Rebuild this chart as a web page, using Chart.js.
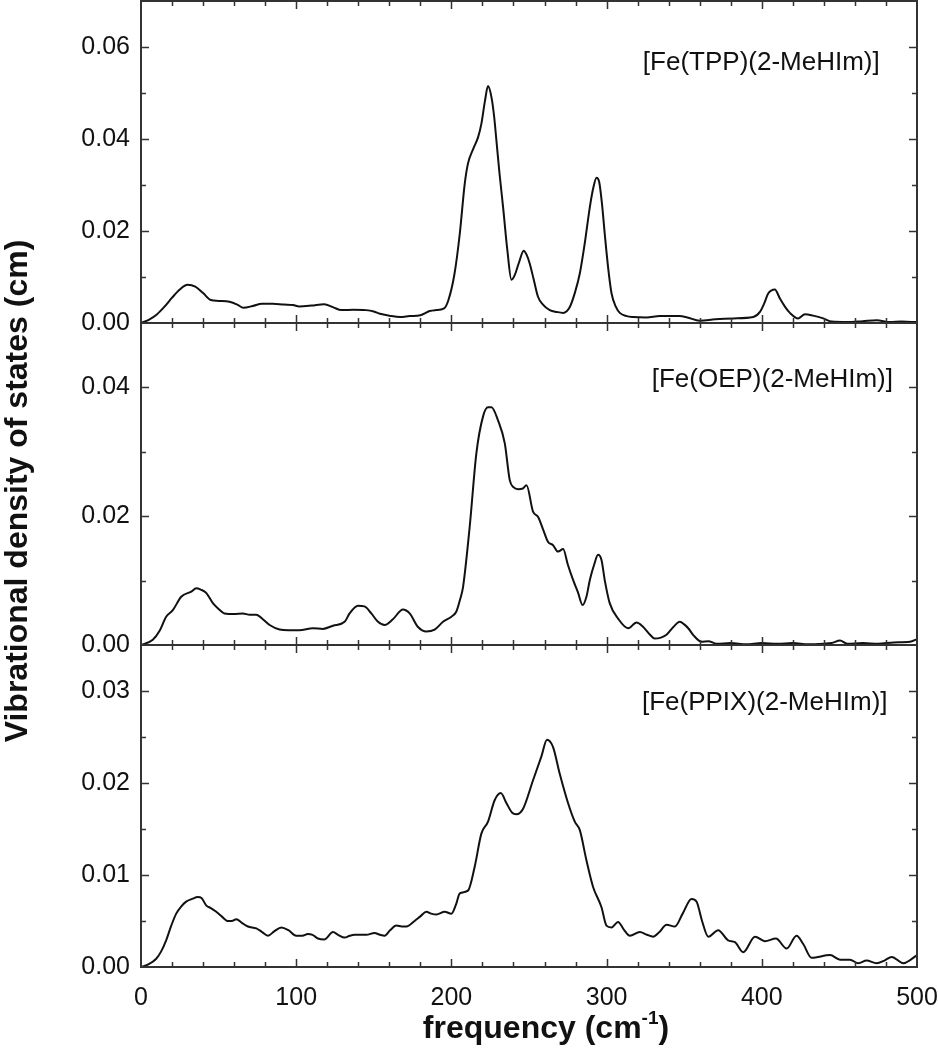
<!DOCTYPE html>
<html>
<head>
<meta charset="utf-8">
<script src="https://cdn.jsdelivr.net/npm/chart.js@4.4.1/dist/chart.umd.min.js"></script>
<style>
    html, body { margin: 0; padding: 0; background: #fff; }
    #wrap { position: relative; width: 938px; height: 1050px; }
</style>
</head>
<body>
<div id="wrap"><canvas id="chartVdos" width="938" height="1050"></canvas></div>
<script>
// [Fe(TPP)(2-MeHIm)] - top panel
const tppFreq = [0, 5, 10, 15, 20, 25, 30, 35, 40, 45, 50, 57, 62, 66, 72, 78, 85, 92, 98, 102,
    110, 118, 124, 129, 137, 145, 150, 154, 160, 167, 173, 180, 186, 190, 195, 198, 202, 205.4, 208.6, 210.7,
    214, 217.2, 219.3, 221.5, 223.6, 225.8, 227.5, 229, 231, 233.3, 236, 238.7, 240.8, 243.5, 246.6, 248.5,
    250.5, 253, 255.8, 259, 263.4, 268, 272, 276.3, 279.5, 282.7, 286, 289.2, 291.5, 293.5, 295.2, 297,
    298.8, 301, 303.2, 306, 308.5, 313, 317, 325.7, 334.3, 347, 352, 360, 370, 381.6, 394.5, 398.8,
    401.5, 404.1, 408.4, 411.7, 415, 418.1, 423.5, 427.8, 433, 439.6, 445, 455, 465, 474, 482.6, 490, 500];
const tppDos = [0, 0.0007, 0.0018, 0.0035, 0.0055, 0.0073, 0.0083, 0.0079, 0.0065, 0.005, 0.0048, 0.0046, 0.004, 0.0033, 0.0037, 0.0042, 0.0042, 0.004, 0.0039, 0.0036,
    0.0038, 0.0041, 0.0034, 0.0028, 0.0029, 0.0028, 0.0025, 0.002, 0.0016, 0.0013, 0.0015, 0.0017, 0.0026, 0.0028, 0.0031, 0.0049, 0.0107, 0.0194, 0.0303, 0.0347,
    0.0378, 0.0404, 0.0433, 0.048, 0.0515, 0.0491, 0.045, 0.0397, 0.0325, 0.0252, 0.016, 0.0094, 0.0104, 0.0131, 0.0157, 0.0148,
    0.0129, 0.0095, 0.0057, 0.004, 0.0028, 0.0024, 0.0022, 0.0035, 0.0065, 0.0107, 0.0175, 0.0252, 0.0295, 0.0316, 0.0307, 0.026,
    0.0194, 0.012, 0.0064, 0.0035, 0.0022, 0.0015, 0.0013, 0.0012, 0.0015, 0.0015, 0.0012, 0.0005, 0.0008, 0.001, 0.0013, 0.0024,
    0.0042, 0.0064, 0.0073, 0.0053, 0.0035, 0.0022, 0.001, 0.0019, 0.0016, 0.001, 0.0003, 0.0002, 0.0004, 0.0006, 0.0002, 0.0003, 0.0002];

// [Fe(OEP)(2-MeHIm)] - middle panel
const oepFreq = [0, 7.6, 12, 16.2, 20.5, 25.9, 32.4, 35.6, 38.5, 42, 46.3, 50, 53.8, 60, 65.6, 70, 74.3, 78.5, 82.9, 89.3,
    95, 102, 110.8, 117.2, 123.7, 131.2, 134.4, 139.8, 144, 148.4, 152.7, 157, 162.3, 168.8, 173.1, 178.5, 183.9, 189.2, 194.6, 200,
    203.2, 205.5, 207.5, 211.8, 216.1, 220.4, 223.6, 225.8, 230, 234.4, 237.6, 240, 243, 246, 248.4, 252.6, 255.8, 259, 262.3, 265.5,
    268.7, 272, 275, 278.4, 281.5, 284.5, 287, 289.2, 292, 294.5, 296.7, 299, 302, 307.4, 313.9, 319.3, 323.6, 328, 331, 338.6,
    343, 347.2, 350, 352.6, 356, 361.2, 365.5, 370.8, 380, 390, 400, 410, 420, 430, 440, 445, 450.4, 455, 465, 475, 485, 495.5, 500];
const oepDos = [0, 0.0008, 0.0022, 0.0044, 0.0054, 0.0075, 0.0083, 0.0088, 0.0086, 0.0081, 0.0065, 0.0056, 0.0049, 0.0048, 0.0049, 0.0047, 0.0047, 0.004, 0.0031, 0.0024,
    0.0023, 0.0023, 0.0026, 0.0025, 0.003, 0.0036, 0.0049, 0.0061, 0.006, 0.0049, 0.0036, 0.0031, 0.004, 0.0055, 0.0049, 0.0028, 0.0021, 0.0024, 0.0036, 0.0044,
    0.0052, 0.007, 0.009, 0.0184, 0.0298, 0.0355, 0.0369, 0.0369, 0.0349, 0.0313, 0.0256, 0.0245, 0.0242, 0.0243, 0.0248, 0.0207, 0.0199, 0.018, 0.016, 0.0155,
    0.0145, 0.0149, 0.0125, 0.0101, 0.0082, 0.0062, 0.0075, 0.0101, 0.0125, 0.014, 0.0132, 0.0098, 0.0065, 0.0041, 0.0026, 0.0035, 0.0028, 0.0016, 0.001, 0.0016,
    0.0028, 0.0036, 0.0032, 0.0026, 0.0015, 0.0005, 0.0006, 0.0002, 0.0003, 0.0001, 0.0003, 0.0002, 0.0003, 0.0001, 0.0002, 0.0003, 0.0007, 0.0002, 0.0003, 0.0002, 0.0004, 0.0005, 0.0009];

// [Fe(PPIX)(2-MeHIm)] - bottom panel
const ppixFreq = [0, 5, 9.8, 13, 16.2, 19.5, 22.7, 26, 29.1, 33, 36.6, 39, 42, 45, 48.5, 52, 56, 58.5, 61.4, 65,
    68.9, 74.3, 78, 81.8, 86, 90.4, 95, 100, 104, 107.5, 110.5, 114, 118.3, 123.7, 127, 131.2, 134.5, 137.7, 145.2, 150.5,
    154, 157, 160.5, 164.5, 168, 171, 176.3, 180, 183.9, 187, 190.3, 195.7, 200, 203, 205.4, 210.7, 215, 219.3, 223.6, 227.8,
    231.8, 235.5, 239, 241.9, 246.2, 252.6, 258, 261.6, 265.5, 269.8, 275.2, 279.5, 282.7, 287, 291.3, 296.7, 299.9, 303.2, 307.4, 311,
    315, 321.4, 326, 330, 334, 338.6, 344, 349, 354.7, 358, 361.5, 365.5, 371.9, 378.3, 382.7, 388, 395.6, 402, 409.1, 416,
    422.4, 426.7, 432.1, 444, 450.4, 456.8, 462.2, 467.5, 474, 479, 483.7, 491.2, 496, 500];
const ppixDos = [0, 0.0003, 0.0009, 0.0017, 0.0029, 0.0045, 0.0058, 0.0066, 0.0071, 0.0074, 0.0076, 0.0075, 0.0067, 0.0064, 0.006, 0.0055, 0.005, 0.005, 0.0052, 0.0048,
    0.0044, 0.0042, 0.0038, 0.0034, 0.0039, 0.0043, 0.004, 0.0034, 0.0034, 0.0036, 0.0035, 0.0031, 0.003, 0.0038, 0.0035, 0.0032, 0.0034, 0.0035, 0.0035, 0.0037,
    0.0035, 0.0034, 0.004, 0.0045, 0.0044, 0.0044, 0.005, 0.0055, 0.006, 0.0058, 0.0057, 0.006, 0.0058, 0.0068, 0.008, 0.0083, 0.0109, 0.0145, 0.0158, 0.0181,
    0.0189, 0.0178, 0.0168, 0.0166, 0.0172, 0.0203, 0.0229, 0.0247, 0.0239, 0.021, 0.0178, 0.0158, 0.0149, 0.0116, 0.0087, 0.0065, 0.0045, 0.0043, 0.0049, 0.0041,
    0.0034, 0.0038, 0.0035, 0.0033, 0.0038, 0.0046, 0.0044, 0.0058, 0.0074, 0.0071, 0.005, 0.0033, 0.004, 0.0029, 0.0027, 0.0016, 0.0033, 0.0028, 0.0031, 0.002,
    0.0034, 0.0025, 0.001, 0.0013, 0.0008, 0.0008, 0.0004, 0.0007, 0.0004, 0.0007, 0.0011, 0.0004, 0.0008, 0.0013];

// axis ranges and tick labels
const xTicks = [0, 100, 200, 300, 400, 500];
const tppTicks = [0, 0.02, 0.04, 0.06];
const oepTicks = [0, 0.02, 0.04];
const ppixTicks = [0, 0.01, 0.02, 0.03];
const panelMax = [0.07, 0.05, 0.035];
const panelNames = ['[Fe(TPP)(2-MeHIm)]', '[Fe(OEP)(2-MeHIm)]', '[Fe(PPIX)(2-MeHIm)]'];

const panelAxes = ['yTpp', 'yOep', 'yPpix'];
const minorStep = [0.01, 0.01, 0.005];
// where the panel names sit (right edge, in data units)
const nameAnchor = [[476, 0.0565], [484.5, 0.0411], [481, 0.0287]];

const toPoints = (xs, ys) => xs.map((x, i) => ({ x: x, y: ys[i] }));

const FONT = "'Liberation Sans', Arial, sans-serif";
const INK = '#111';
const FRAME = '#333';

Chart.defaults.font.family = FONT;
Chart.defaults.color = INK;

function yAxis(ticks, max, weight) {
    return {
        type: 'linear',
        position: 'left',
        stack: 'vdos',
        stackWeight: 1,
        weight: weight,
        min: 0,
        max: max,
        grid: { display: false, drawTicks: false },
        border: { display: false },
        afterBuildTicks: function (scale) {
            scale.ticks = ticks.map(v => ({ value: v }));
        },
        afterFit: function (scale) {
            scale.width = 141;
            scale.paddingTop = 0;
            scale.paddingBottom = 0;
        },
        ticks: {
            padding: 11,
            font: { size: 25 },
            color: INK,
            callback: v => Number(v).toFixed(2)
        }
    };
}

// frame, separators and inward ticks on all four sides of each panel
const panelFrame = {
    id: 'panelFrame',
    afterDatasetsDraw(chart) {
        const { ctx, chartArea: a, scales } = chart;
        const xs = scales.x;
        ctx.save();
        ctx.strokeStyle = FRAME;
        ctx.lineWidth = 2;
        ctx.strokeRect(a.left, a.top, a.right - a.left, a.bottom - a.top);

        panelAxes.forEach((id, i) => {
            const ys = scales[id];
            ctx.lineWidth = 2;
            ctx.beginPath();
            ctx.moveTo(a.left, ys.bottom);
            ctx.lineTo(a.right, ys.bottom);
            ctx.stroke();

            ctx.lineWidth = 1.5;
            ctx.beginPath();
            for (let v = 20; v < 500; v += 20) {
                const px = Math.round(xs.getPixelForValue(v)) + 0.5;
                const len = v % 100 === 0 ? 8 : 5;
                ctx.moveTo(px, ys.top);
                ctx.lineTo(px, ys.top + len);
                ctx.moveTo(px, ys.bottom);
                ctx.lineTo(px, ys.bottom - len);
            }
            const n = Math.round(ys.max / minorStep[i]);
            for (let k = 1; k < n; k++) {
                const py = Math.round(ys.getPixelForValue(k * minorStep[i])) + 0.5;
                const len = k % 2 === 0 ? 8 : 5;
                ctx.moveTo(a.left, py);
                ctx.lineTo(a.left + len, py);
                ctx.moveTo(a.right, py);
                ctx.lineTo(a.right - len, py);
            }
            ctx.stroke();

            // sample name
            ctx.fillStyle = INK;
            ctx.font = '26px ' + FONT;
            ctx.textAlign = 'right';
            ctx.textBaseline = 'middle';
            ctx.fillText(panelNames[i], xs.getPixelForValue(nameAnchor[i][0]), ys.getPixelForValue(nameAnchor[i][1]));
        });
        ctx.restore();
    }
};

// axis titles (x title has a superscript -1)
const axisTitles = {
    id: 'axisTitles',
    afterDraw(chart) {
        const ctx = chart.ctx;
        ctx.save();
        ctx.fillStyle = INK;
        ctx.font = 'bold 32px ' + FONT;
        ctx.textBaseline = 'alphabetic';

        const main = 'frequency (cm';
        const sup = '-1';
        const close = ')';
        const wMain = ctx.measureText(main).width;
        const wClose = ctx.measureText(close).width;
        ctx.font = 'bold 19px ' + FONT;
        const wSup = ctx.measureText(sup).width;
        let x = 546 - (wMain + wSup + wClose) / 2;
        const base = 1038;
        ctx.font = 'bold 32px ' + FONT;
        ctx.textAlign = 'left';
        ctx.fillText(main, x, base);
        x += wMain;
        ctx.font = 'bold 19px ' + FONT;
        ctx.fillText(sup, x, base - 14);
        x += wSup;
        ctx.font = 'bold 32px ' + FONT;
        ctx.fillText(close, x, base);

        ctx.translate(18, 491);
        ctx.rotate(-Math.PI / 2);
        ctx.textAlign = 'center';
        ctx.textBaseline = 'middle';
        ctx.fillText('Vibrational density of states (cm)', 0, 0);
        ctx.restore();
    }
};

function drawChart() {
    const ctx = document.getElementById('chartVdos');
    const line = {
        borderColor: INK,
        borderWidth: 2,
        pointRadius: 0,
        fill: false,
        tension: 0.3,
        cubicInterpolationMode: 'monotone'
    };

    new Chart(ctx, {
        type: 'line',
        data: {
            datasets: [
                Object.assign({ label: panelNames[0], data: toPoints(tppFreq, tppDos), yAxisID: 'yTpp' }, line),
                Object.assign({ label: panelNames[1], data: toPoints(oepFreq, oepDos), yAxisID: 'yOep' }, line),
                Object.assign({ label: panelNames[2], data: toPoints(ppixFreq, ppixDos), yAxisID: 'yPpix' }, line)
            ]
        },
        options: {
            responsive: false,
            animation: false,
            layout: { padding: { left: 0, right: 21, top: 1, bottom: 0 } },
            plugins: {
                legend: { display: false },
                tooltip: { enabled: false }
            },
            scales: {
                x: {
                    type: 'linear',
                    position: 'bottom',
                    min: 0,
                    max: 500,
                    grid: { display: false, drawTicks: false },
                    border: { display: false },
                    afterBuildTicks: function (scale) {
                        scale.ticks = xTicks.map(v => ({ value: v }));
                    },
                    afterFit: function (scale) {
                        scale.height = 83;
                        scale.paddingLeft = 0;
                        scale.paddingRight = 0;
                    },
                    ticks: {
                        padding: 16,
                        font: { size: 25 },
                        color: INK,
                        maxRotation: 0
                    }
                },
                yTpp: yAxis(tppTicks, panelMax[0], 3),
                yOep: yAxis(oepTicks, panelMax[1], 2),
                yPpix: yAxis(ppixTicks, panelMax[2], 1)
            }
        },
        plugins: [panelFrame, axisTitles]
    });
}

drawChart();
</script>
</body>
</html>
